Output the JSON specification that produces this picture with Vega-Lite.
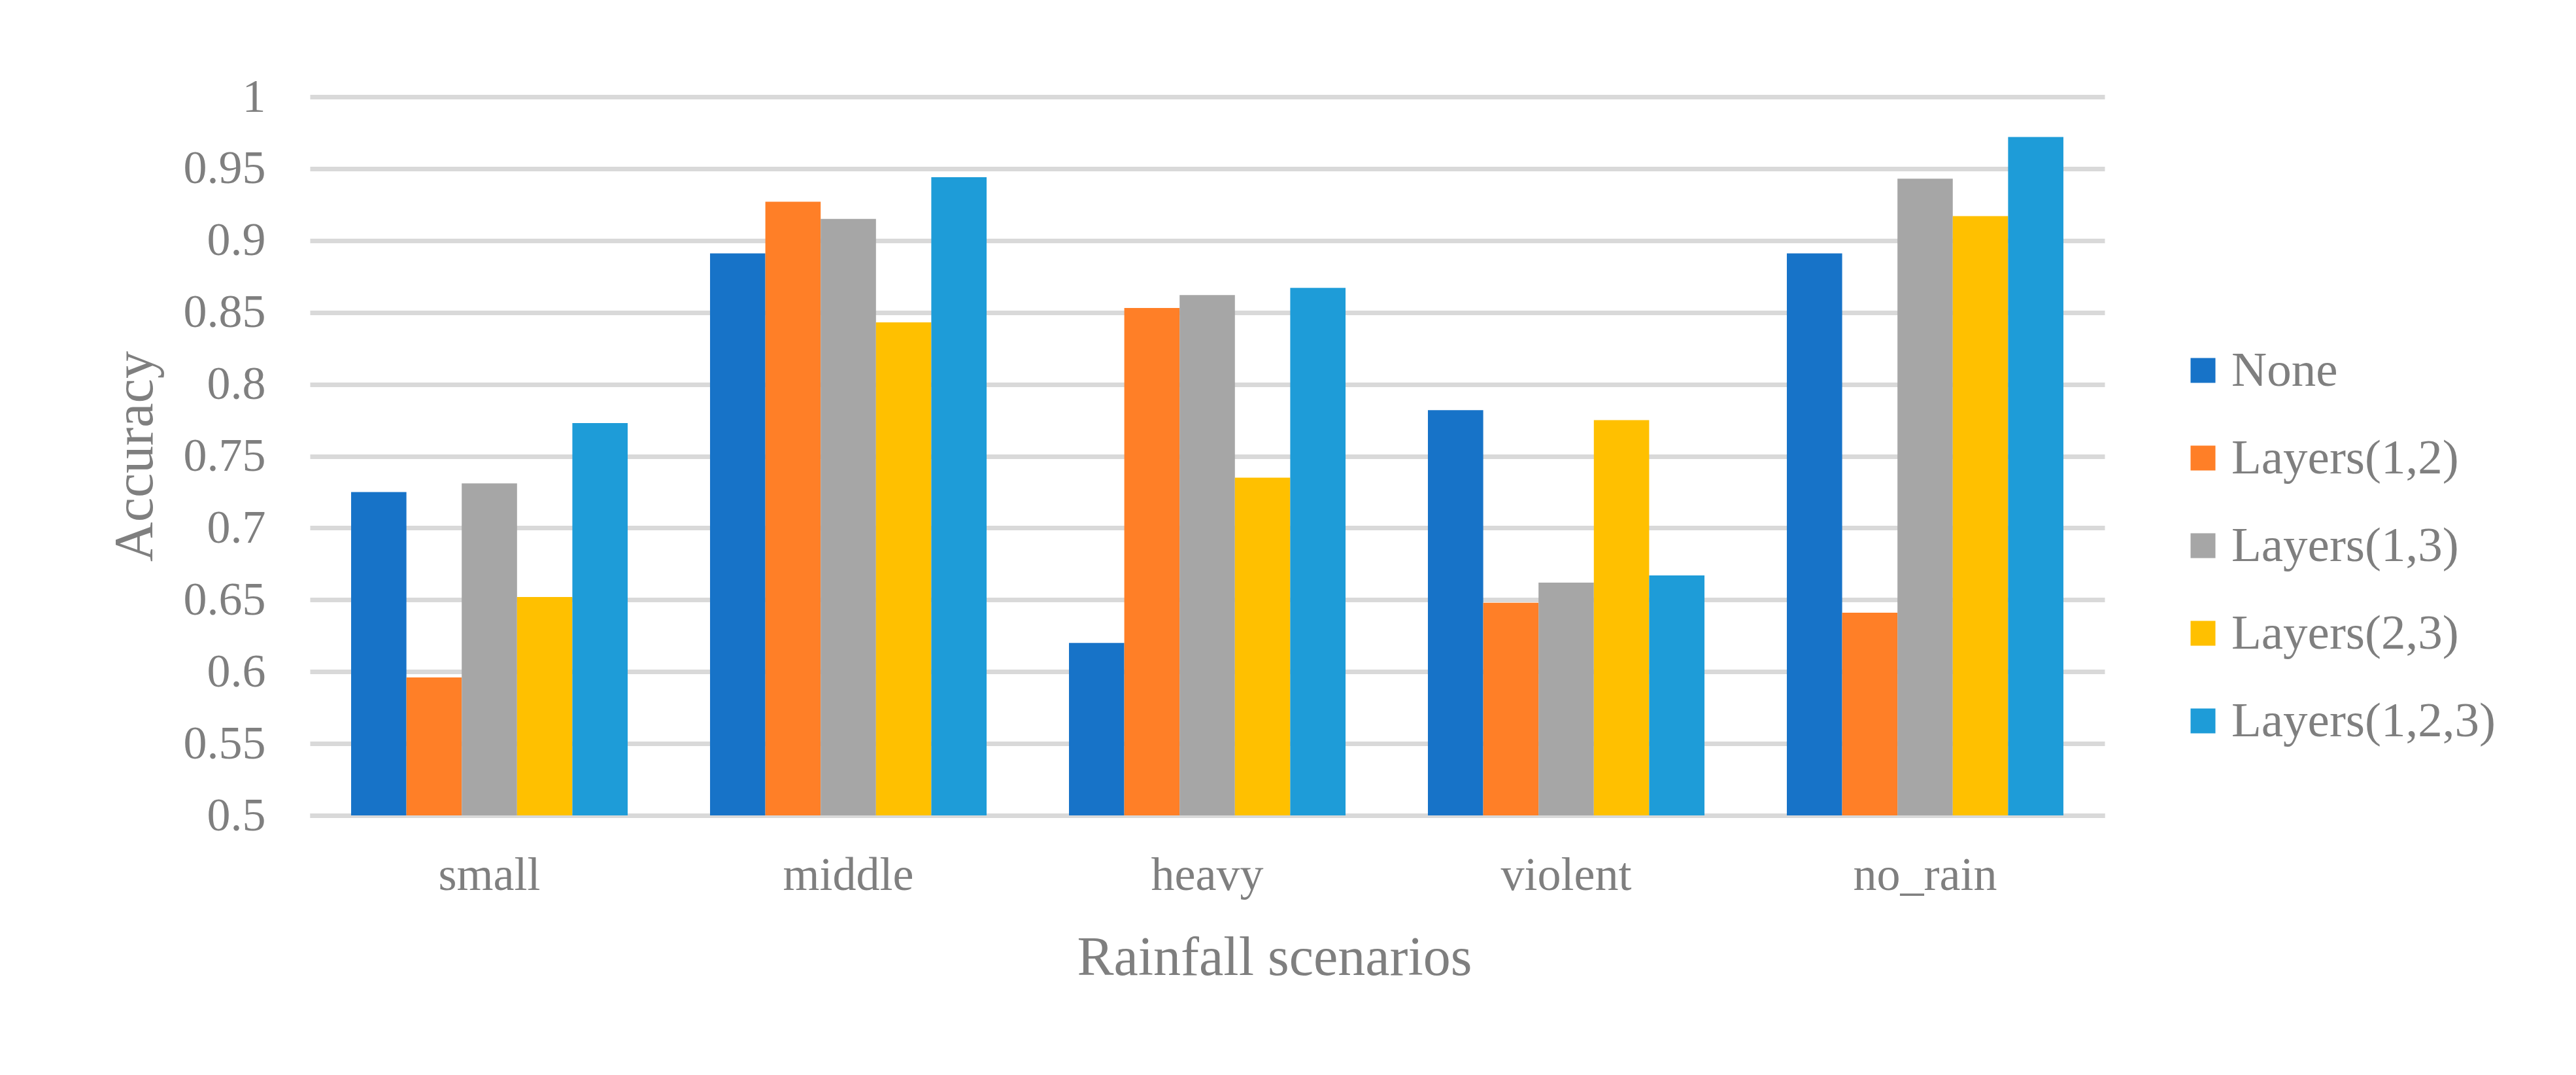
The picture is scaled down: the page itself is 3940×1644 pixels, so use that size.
{
  "$schema": "https://vega.github.io/schema/vega-lite/v6.json",
  "width": 2745,
  "height": 1099,
  "autosize": {"type": "none"},
  "padding": {"left": 474, "top": 148, "right": 721, "bottom": 397},
  "background": "white",
  "data": {
    "values": [
      {"scenario": "small", "method": "None", "accuracy": 0.725},
      {"scenario": "small", "method": "Layers(1,2)", "accuracy": 0.596},
      {"scenario": "small", "method": "Layers(1,3)", "accuracy": 0.731},
      {"scenario": "small", "method": "Layers(2,3)", "accuracy": 0.652},
      {"scenario": "small", "method": "Layers(1,2,3)", "accuracy": 0.773},
      {"scenario": "middle", "method": "None", "accuracy": 0.891},
      {"scenario": "middle", "method": "Layers(1,2)", "accuracy": 0.927},
      {"scenario": "middle", "method": "Layers(1,3)", "accuracy": 0.915},
      {"scenario": "middle", "method": "Layers(2,3)", "accuracy": 0.843},
      {"scenario": "middle", "method": "Layers(1,2,3)", "accuracy": 0.944},
      {"scenario": "heavy", "method": "None", "accuracy": 0.620},
      {"scenario": "heavy", "method": "Layers(1,2)", "accuracy": 0.853},
      {"scenario": "heavy", "method": "Layers(1,3)", "accuracy": 0.862},
      {"scenario": "heavy", "method": "Layers(2,3)", "accuracy": 0.735},
      {"scenario": "heavy", "method": "Layers(1,2,3)", "accuracy": 0.867},
      {"scenario": "violent", "method": "None", "accuracy": 0.782},
      {"scenario": "violent", "method": "Layers(1,2)", "accuracy": 0.648},
      {"scenario": "violent", "method": "Layers(1,3)", "accuracy": 0.662},
      {"scenario": "violent", "method": "Layers(2,3)", "accuracy": 0.775},
      {"scenario": "violent", "method": "Layers(1,2,3)", "accuracy": 0.667},
      {"scenario": "no_rain", "method": "None", "accuracy": 0.891},
      {"scenario": "no_rain", "method": "Layers(1,2)", "accuracy": 0.641},
      {"scenario": "no_rain", "method": "Layers(1,3)", "accuracy": 0.943},
      {"scenario": "no_rain", "method": "Layers(2,3)", "accuracy": 0.917},
      {"scenario": "no_rain", "method": "Layers(1,2,3)", "accuracy": 0.972}
    ]
  },
  "mark": {"type": "bar", "clip": true},
  "encoding": {
    "x": {
      "field": "scenario",
      "type": "nominal",
      "sort": ["small", "middle", "heavy", "violent", "no_rain"],
      "scale": {"paddingInner": 0.2295, "paddingOuter": 0.1148},
      "axis": {
        "title": "Rainfall scenarios",
        "titleX": 1475,
        "labelAngle": 0,
        "labelLimit": 1000,
        "ticks": false,
        "domain": true,
        "domainColor": "#d9d9d9",
        "domainWidth": 7,
        "labelPadding": 56,
        "titlePadding": 50,
        "grid": false
      }
    },
    "xOffset": {
      "field": "method",
      "type": "nominal",
      "sort": ["None", "Layers(1,2)", "Layers(1,3)", "Layers(2,3)", "Layers(1,2,3)"],
      "scale": {"paddingInner": 0, "paddingOuter": 0}
    },
    "y": {
      "field": "accuracy",
      "type": "quantitative",
      "scale": {"domain": [0.5, 1], "zero": false, "nice": false},
      "axis": {
        "title": "Accuracy",
        "values": [0.5, 0.55, 0.6, 0.65, 0.7, 0.75, 0.8, 0.85, 0.9, 0.95, 1],
        "format": "~g",
        "ticks": false,
        "domain": false,
        "grid": true,
        "gridColor": "#d9d9d9",
        "gridWidth": 7,
        "labelPadding": 68,
        "titlePadding": 30
      }
    },
    "color": {
      "field": "method",
      "type": "nominal",
      "sort": ["None", "Layers(1,2)", "Layers(1,3)", "Layers(2,3)", "Layers(1,2,3)"],
      "scale": {
        "domain": ["None", "Layers(1,2)", "Layers(1,3)", "Layers(2,3)", "Layers(1,2,3)"],
        "range": ["#1773C8", "#FF7F27", "#A6A6A6", "#FFC000", "#1E9CD8"]
      },
      "legend": {
        "title": null,
        "orient": "none",
        "legendX": 2858,
        "legendY": 381,
        "padding": 0,
        "symbolType": "square",
        "symbolSize": 1444,
        "symbolStrokeWidth": 0,
        "symbolOpacity": 1,
        "labelOffset": 6,
        "labelFontSize": 75,
        "labelFont": "Liberation Serif",
        "labelColor": "#7F7F7F",
        "labelLimit": 1000,
        "rowPadding": 58
      }
    }
  },
  "config": {
    "view": {"stroke": null},
    "axis": {
      "labelFont": "Liberation Serif",
      "titleFont": "Liberation Serif",
      "labelFontSize": 72,
      "titleFontSize": 84,
      "labelColor": "#7F7F7F",
      "titleColor": "#7F7F7F",
      "titleFontWeight": "normal"
    }
  }
}
